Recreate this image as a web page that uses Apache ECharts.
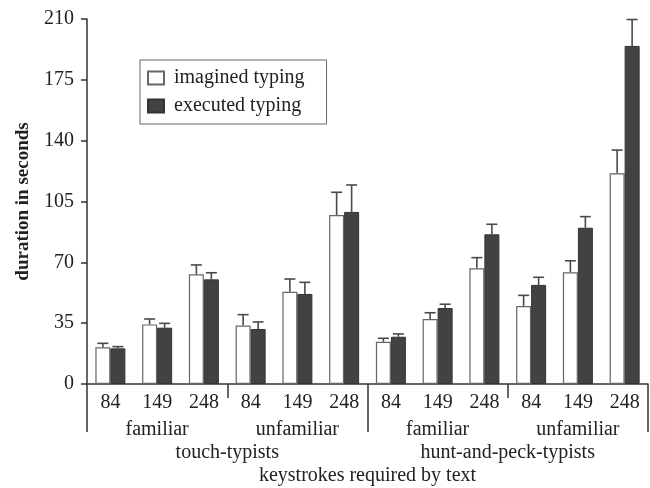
<!DOCTYPE html>
<html>
<head>
<meta charset="utf-8">
<script src="https://cdn.jsdelivr.net/npm/echarts@6/dist/echarts.min.js"></script>
<style>html,body{margin:0;padding:0;background:#fff}#c{width:650px;height:488px}</style>
</head>
<body>
<div id="c"></div>
<script>
// ---- data ----
var keystrokes = ['84', '149', '248'];
var familiarity = ['familiar', 'unfamiliar'];
var typistGroups = ['touch-typists', 'hunt-and-peck-typists'];
var seriesNames = ['imagined typing', 'executed typing'];
var imagined   = [21.1, 34.3, 63.1, 33.6, 53.1, 97.2, 24.3, 37.4, 66.6, 44.9, 64.3, 121.2];
var imaginedSE = [2.3, 3.1, 5.4, 6.3, 7.3, 13.1, 2.0, 3.6, 6.1, 6.1, 6.6, 13.4];
var executed   = [20.5, 32.4, 60.2, 31.6, 51.8, 99.0, 27.2, 43.7, 86.1, 57.0, 89.9, 194.5];
var executedSE = [1.0, 2.5, 3.8, 4.1, 6.7, 15.5, 1.6, 2.2, 5.8, 4.4, 6.4, 15.2];
var yTicks = [0, 35, 70, 105, 140, 175, 210];

// ---- build categories ----
var cats = [], cats2 = [];
typistGroups.forEach(function (g, gi) {
  familiarity.forEach(function (f, fi) {
    cats2.push(f + '|' + gi);
    keystrokes.forEach(function (k, ki) { cats.push(k + '|' + gi + fi + ki); });
  });
});
function strip(v) { return v.split('|')[0]; }

var FONT = '"Liberation Serif", "DejaVu Serif", serif';
var FS = 20;
var BW = 15;

function errData(vals, se) {
  return vals.map(function (v, i) { return [i, v, v + se[i]]; });
}
function errRender(offset) {
  return function (params, api) {
    var i = api.value(0);
    var p0 = api.coord([i, api.value(1)]);
    var p1 = api.coord([i, api.value(2)]);
    var x = p0[0] + offset;
    var st = { stroke: '#4a4a4a', lineWidth: 1.6 };
    return {
      type: 'group',
      children: [
        { type: 'line', shape: { x1: x, y1: p0[1], x2: x, y2: p1[1] }, style: st },
        { type: 'line', shape: { x1: x - 5.5, y1: p1[1], x2: x + 5.5, y2: p1[1] }, style: st }
      ]
    };
  };
}

var chart = echarts.init(document.getElementById('c'));
chart.setOption({
  animation: false,
  backgroundColor: '#fff',
  textStyle: { fontFamily: FONT },
  grid: { left: 87, right: 2, top: 19, bottom: 104, containLabel: false, outerBoundsMode: 'none' },
  legend: {
    orient: 'vertical',
    left: 140, top: 60,
    padding: [7, 22, 7, 7],
    itemGap: 6,
    itemWidth: 16, itemHeight: 13,
    borderColor: '#666', borderWidth: 1,
    textStyle: { fontFamily: FONT, fontSize: FS, color: '#222', padding: [0, 0, 0, 5], lineHeight: 22 },
    data: [
      { name: seriesNames[0], icon: 'rect' },
      { name: seriesNames[1], icon: 'rect' }
    ]
  },
  xAxis: [
    {
      type: 'category', data: cats, position: 'bottom',
      axisLine: { lineStyle: { color: '#333', width: 1.5 } },
      axisTick: { show: false },
      axisLabel: { formatter: strip, fontFamily: FONT, fontSize: FS, color: '#222', margin: 9, interval: 0 },
      name: 'keystrokes required by text', nameLocation: 'middle', nameGap: 82,
      nameTextStyle: { fontFamily: FONT, fontSize: FS, color: '#222' }
    },
    {
      type: 'category', data: cats2, position: 'bottom', gridIndex: 0,
      axisLine: { show: false },
      axisTick: { show: true, inside: false, length: 14, lineStyle: { color: '#333', width: 1.5 } },
      axisLabel: { formatter: strip, fontFamily: FONT, fontSize: FS, color: '#222', margin: 36, interval: 0 }
    },
    {
      type: 'category', data: typistGroups, position: 'bottom', gridIndex: 0,
      axisLine: { show: false },
      axisTick: { show: true, inside: false, length: 48, lineStyle: { color: '#333', width: 1.5 } },
      axisLabel: { fontFamily: FONT, fontSize: FS, color: '#222', margin: 59, interval: 0 }
    }
  ],
  yAxis: {
    type: 'value', min: yTicks[0], max: yTicks[yTicks.length - 1], interval: 35,
    axisLine: { show: true, lineStyle: { color: '#333', width: 1.5 } },
    axisTick: { show: true, length: 6, lineStyle: { color: '#333', width: 1.5 } },
    axisLabel: { fontFamily: FONT, fontSize: FS, color: '#222', margin: 13 },
    splitLine: { show: false },
    name: 'duration in seconds', nameLocation: 'middle', nameGap: 54, nameRotate: 90,
    nameTextStyle: { fontFamily: FONT, fontSize: 19, fontWeight: 'bold', color: '#222' }
  },
  series: [
    {
      name: seriesNames[0], type: 'bar', data: imagined, barWidth: BW, barGap: '0%',
      itemStyle: { color: '#fff', borderColor: '#666', borderWidth: 1.2 }
    },
    {
      name: seriesNames[1], type: 'bar', data: executed, barWidth: BW, barGap: '0%',
      itemStyle: { color: '#424242', borderColor: '#333', borderWidth: 1 }
    },
    {
      type: 'custom', data: errData(imagined, imaginedSE), renderItem: errRender(-BW / 2),
      encode: { x: 0, y: [1, 2] }, z: 5, silent: true
    },
    {
      type: 'custom', data: errData(executed, executedSE), renderItem: errRender(BW / 2),
      encode: { x: 0, y: [1, 2] }, z: 5, silent: true
    }
  ]
});
</script>
</body>
</html>
